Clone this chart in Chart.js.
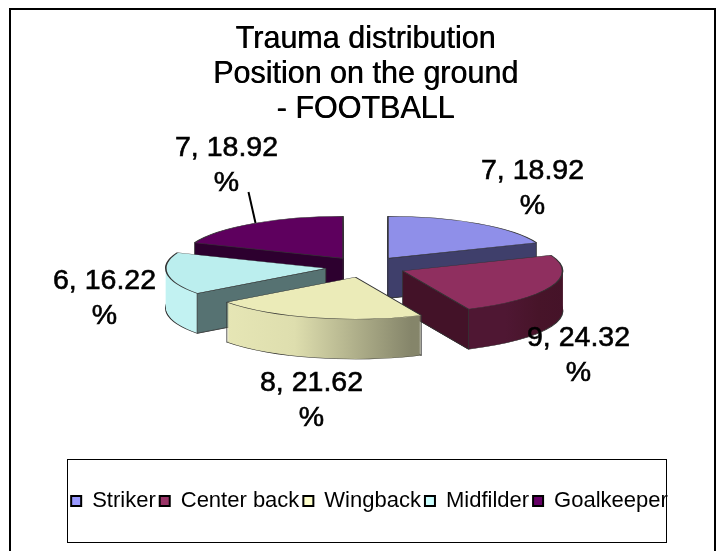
<!DOCTYPE html>
<html>
<head>
<meta charset="utf-8">
<title>Trauma distribution</title>
<style>
html, body { margin: 0; padding: 0; background: #fff; overflow: hidden; }
canvas { display: block; }
</style>
<script src="https://cdn.jsdelivr.net/npm/chart.js@4/dist/chart.umd.min.js"></script>
</head>
<body>
<canvas id="chart" width="723" height="551"></canvas>
<script>
const titleLines = ['Trauma distribution', 'Position on the ground', '- FOOTBALL'];
const positions = ['Striker', 'Center back', 'Wingback', 'Midfilder', 'Goalkeeper'];
const counts = [7, 9, 8, 6, 7];
const percents = ['18.92', '24.32', '21.62', '16.22', '18.92'];

const legendColors = ['#9999ff', '#993366', '#ffffcc', '#ccffff', '#660066'];
const topColors = ['#8f8fe9', '#8f2f5f', '#ebebb8', '#bbeeee', '#5e005e'];
const sideColors = ['#3f3f6b', '#431228', '#85856a', '#567272', '#2d002f'];
const wallStops = [
    ['#3f3f6b', '#3f3f6b', '#3f3f6b'],
    ['#4f1733', '#471429', '#431228'],
    ['#e7e7b6', '#dedeae', '#85856a'],
    ['#b4e6e6', '#b8ecec', '#c2f2f2'],
    ['#2d002f', '#2d002f', '#2d002f']
];

// label centres relative to the pie centre, in pixels
const labelOffsets = [[167, -96], [213, 71], [-54, 116], [-261, 14], [-139, -119]];

const tilt = 0.2625;
const depth = 40;
const explode = 40;
const lift = 39.5;

function sliceGeometry(chart, arc) {
    const mid = (arc.startAngle + arc.endAngle) / 2;
    const cx = arc.x + Math.cos(mid) * explode;
    const cy = arc.y - lift + Math.sin(mid) * explode * tilt;
    const at = a => ({
        x: cx + Math.cos(a) * arc.outerRadius,
        y: cy + Math.sin(a) * arc.outerRadius * tilt
    });
    return {mid, cx, cy, start: at(arc.startAngle), end: at(arc.endAngle), middle: at(mid)};
}

function drawArc(ctx, arc, g, dy, fill, border) {
    const saved = arc.options;
    arc.options = Object.assign({}, saved, {backgroundColor: fill, borderColor: border || fill, borderWidth: border ? 1.6 : 0});
    ctx.save();
    ctx.translate(g.cx, g.cy + dy);
    ctx.scale(1, tilt);
    ctx.translate(-arc.x, -arc.y);
    arc.draw(ctx);
    ctx.restore();
    arc.options = saved;
}

function wallFaces(g, p) {
    const dx = p.x - g.cx;
    const s = dx * (g.middle.y - g.cy) - (p.y - g.cy) * (g.middle.x - g.cx);
    return s * dx < 0;
}

const pie3d = {
    id: 'pie3d',
    beforeDraw(chart) {
        const ctx = chart.ctx;
        ctx.save();
        ctx.strokeStyle = '#000';
        ctx.lineWidth = 2;
        ctx.beginPath();
        ctx.moveTo(10, 551);
        ctx.lineTo(10, 9);
        ctx.lineTo(715, 9);
        ctx.lineTo(715, 551);
        ctx.stroke();
        ctx.lineWidth = 1;
        ctx.strokeRect(67.5, 459.5, 599, 83);
        ctx.restore();
    },
    afterLayout(chart) {
        chart.legend.left += 4;
        chart.legend.right += 4;
    },
    beforeDatasetDraw(chart, args) {
        const ctx = chart.ctx;
        // second pass of the title, the original type is heavier than regular
        ctx.save();
        ctx.translate(0.5, 0);
        chart.titleBlock.draw();
        ctx.restore();
        const arcs = args.meta.data.map((arc, i) => ({arc, i, g: sliceGeometry(chart, arc)}));
        // back slices first
        arcs.sort((a, b) => a.g.cy - b.g.cy);
        arcs.forEach(({arc, i, g}) => {
            const grad = ctx.createLinearGradient(Math.min(g.start.x, g.end.x), 0, Math.max(g.start.x, g.end.x), 0);
            grad.addColorStop(0, wallStops[i][0]);
            grad.addColorStop(0.4, wallStops[i][1]);
            grad.addColorStop(1, wallStops[i][2]);
            drawArc(ctx, arc, g, depth, grad, '#333');
            for (let d = depth - 1; d > 0; d--) {
                drawArc(ctx, arc, g, d, grad);
            }
            ctx.save();
            ctx.lineWidth = 0.8;
            ctx.strokeStyle = '#333';
            [[g.start, arc.startAngle], [g.end, arc.endAngle]].forEach(([p, a]) => {
                if (wallFaces(g, p)) {
                    ctx.fillStyle = sideColors[i];
                    ctx.beginPath();
                    ctx.moveTo(g.cx, g.cy);
                    ctx.lineTo(p.x, p.y);
                    ctx.lineTo(p.x, p.y + depth);
                    ctx.lineTo(g.cx, g.cy + depth);
                    ctx.closePath();
                    ctx.fill();
                    ctx.stroke();
                } else if (Math.sin(a) > 0) {
                    ctx.beginPath();
                    ctx.moveTo(p.x, p.y);
                    ctx.lineTo(p.x, p.y + depth);
                    ctx.stroke();
                }
            });
            ctx.restore();
            drawArc(ctx, arc, g, 0, topColors[i], '#333');
        });
        return false;
    },
    afterDatasetsDraw(chart) {
        const ctx = chart.ctx;
        const first = chart.getDatasetMeta(0).data[0];
        const px = first.x;
        const py = first.y - lift;
        ctx.save();
        ctx.strokeStyle = '#000';
        ctx.lineWidth = 2;
        ctx.beginPath();
        ctx.moveTo(px - 117, py - 75);
        ctx.lineTo(px - 110, py - 44);
        ctx.stroke();
        ctx.fillStyle = '#000';
        ctx.lineWidth = 0.6;
        ctx.font = '28.5px "Liberation Sans"';
        ctx.textAlign = 'center';
        ctx.textBaseline = 'middle';
        counts.forEach((n, i) => {
            const x = px + labelOffsets[i][0];
            const y = py + labelOffsets[i][1];
            ctx.fillText(n + ', ' + percents[i], x, y);
            ctx.strokeText(n + ', ' + percents[i], x, y);
            ctx.fillText('%', x, y + 35);
            ctx.strokeText('%', x, y + 35);
        });
        ctx.restore();
    }
};

new Chart(document.getElementById('chart'), {
    type: 'pie',
    data: {
        labels: positions,
        datasets: [{
            data: counts,
            backgroundColor: topColors
        }]
    },
    options: {
        responsive: false,
        animation: false,
        events: [],
        radius: 160,
        layout: {padding: {left: 8, bottom: 29}},
        plugins: {
            tooltip: {enabled: false},
            title: {
                display: true,
                text: titleLines,
                color: '#000',
                font: {family: '"Liberation Sans"', size: 30.5, weight: 'normal', lineHeight: '35px'},
                padding: {top: 22, bottom: 0}
            },
            legend: {
                position: 'bottom',
                labels: {
                    boxWidth: 10,
                    boxHeight: 10,
                    padding: 4,
                    color: '#000',
                    font: {family: '"Liberation Sans"', size: 22},
                    generateLabels: () => positions.map((name, i) => ({
                        text: name,
                        fillStyle: legendColors[i],
                        strokeStyle: '#000',
                        lineWidth: 2,
                        index: i
                    }))
                }
            }
        }
    },
    plugins: [pie3d]
});
</script>
</body>
</html>
